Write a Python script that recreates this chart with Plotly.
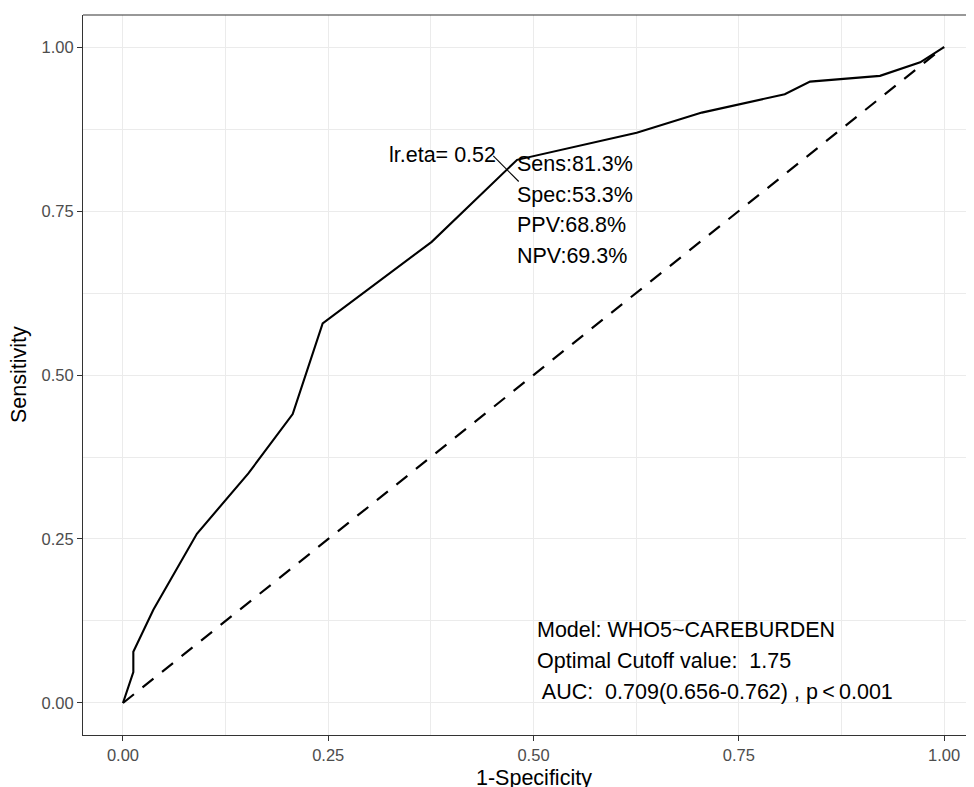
import plotly.graph_objects as go

# ROC curve points (1-Specificity, Sensitivity)
fpr = [0.0, 0.0077, 0.0126, 0.0126, 0.037, 0.090, 0.1527, 0.2067, 0.2432, 0.376,
       0.467, 0.480, 0.6257, 0.705, 0.806, 0.8368, 0.922, 0.971, 1.0]
tpr = [0.0, 0.031, 0.047, 0.078, 0.142, 0.258, 0.350, 0.4405, 0.5788, 0.703,
       0.8125, 0.828, 0.8694, 0.900, 0.928, 0.9472, 0.956, 0.9766, 1.0]

ref_x = [0.0, 1.0]
ref_y = [0.0, 1.0]

# Optimal cutoff
cut_sens = 0.813
cut_spec = 0.533
cut_label = "lr.eta= 0.52"
cut_stats = ["Sens:81.3%", "Spec:53.3%", "PPV:68.8%", "NPV:69.3%"]
model_lines = ["Model: WHO5~CAREBURDEN",
               "Optimal Cutoff value:  1.75",
               " AUC:  0.709(0.656-0.762) , p\u2009<\u20090.001"]

tick_vals = [0.0, 0.25, 0.5, 0.75, 1.0]
tick_text = ["0.00", "0.25", "0.50", "0.75", "1.00"]

FONT = "Liberation Sans, Arial, Helvetica, sans-serif"
TXT = 21.5

fig = go.Figure()

fig.add_trace(go.Scatter(x=ref_x, y=ref_y, mode="lines",
                         line=dict(color="black", width=2.2, dash="14px,11px"),
                         hoverinfo="skip", showlegend=False))
fig.add_trace(go.Scatter(x=fpr, y=tpr, mode="lines",
                         line=dict(color="black", width=2.1),
                         showlegend=False))

cx = 1 - cut_spec
cy = cut_sens
fig.add_trace(go.Scatter(x=[cx - 0.016, cx + 0.015], y=[cy + 0.021, cy - 0.018],
                         mode="lines", line=dict(color="black", width=1.1),
                         hoverinfo="skip", showlegend=False))

ann = []
ann.append(dict(x=0.457, y=0.836, xref="x", yref="y", text=cut_label,
                showarrow=False, xanchor="right", yanchor="middle",
                font=dict(family=FONT, size=TXT, color="black")))
stat_y = [0.821, 0.775, 0.729, 0.681]
for t, yy in zip(cut_stats, stat_y):
    ann.append(dict(x=0.4775, y=yy, xref="x", yref="y", text=t,
                    showarrow=False, xanchor="left", yanchor="middle",
                    font=dict(family=FONT, size=TXT, color="black")))
model_y = [0.111, 0.064, 0.016]
for t, yy in zip(model_lines, model_y):
    ann.append(dict(x=0.5018, y=yy, xref="x", yref="y", text=t,
                    showarrow=False, xanchor="left", yanchor="middle",
                    font=dict(family=FONT, size=TXT, color="black")))

# axis titles
ann.append(dict(x=0.5, y=0, xref="x", yref="paper", text="1-Specificity",
                showarrow=False, xanchor="center", yanchor="middle", yshift=-43,
                font=dict(family=FONT, size=TXT, color="black")))
ann.append(dict(x=0, y=0.5, xref="paper", yref="y", text="Sensitivity",
                showarrow=False, xanchor="center", yanchor="middle", xshift=-64,
                textangle=-90,
                font=dict(family=FONT, size=TXT, color="black")))

axis_common = dict(
    tickmode="array", tickvals=tick_vals, ticktext=tick_text,
    showgrid=True, gridcolor="#EBEBEB", gridwidth=1.1,
    zeroline=False, showline=True, linecolor="#333333", linewidth=1.1,
    ticks="outside", ticklen=5, tickwidth=1.1, tickcolor="#333333",
    tickfont=dict(family=FONT, size=16.5, color="#4D4D4D"),
    minor=dict(tickmode="array", tickvals=[0.125, 0.375, 0.625, 0.875],
               showgrid=True, gridcolor="#EBEBEB", gridwidth=0.55, ticks=""),
)

# page has an 8px body margin, so the figure is drawn 8px down/right
fig.update_layout(
    width=966, height=779,
    margin=dict(l=75, r=0, t=7, b=52),
    paper_bgcolor="white", plot_bgcolor="white",
    xaxis=dict(range=[-0.0487, 1.0365], **axis_common),
    yaxis=dict(range=[-0.0488, 1.0488], **axis_common),
    annotations=ann,
    shapes=[dict(type="line", xref="paper", yref="paper", x0=0, x1=1, y0=1, y1=1,
                 line=dict(color="#333333", width=1.1))],
    font=dict(family=FONT),
)

fig.write_html("out.html")
